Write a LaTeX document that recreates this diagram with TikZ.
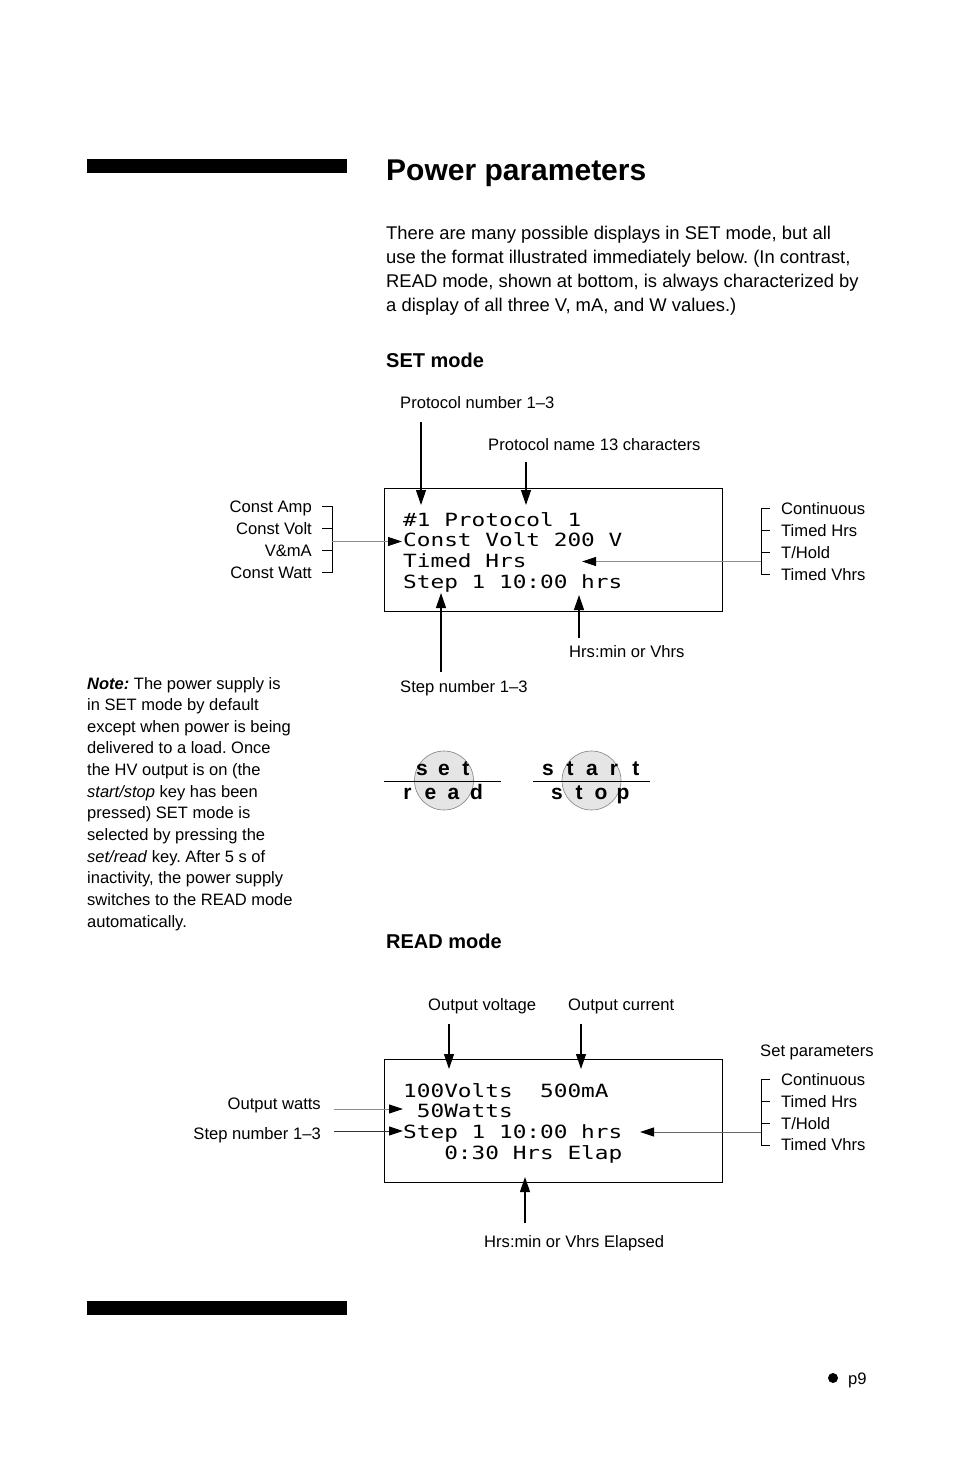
\documentclass[tikz,border=0pt]{standalone}
\usepackage{fontspec}
\setmainfont{Liberation Sans}
\newfontfamily\lcd{DejaVu Sans Mono}[FakeStretch=1.25]
\usetikzlibrary{arrows.meta}
\frenchspacing
\tikzset{
  lbl/.style={font=\fontsize{16.6}{19}\selectfont, inner sep=0pt},
  body/.style={font=\fontsize{18.4}{24}\selectfont, inner sep=0pt, anchor=base west},
  note/.style={font=\fontsize{16.5}{21}\selectfont, inner sep=0pt, anchor=base west},
  lcdtxt/.style={font=\lcd\fontsize{18.2}{20}\selectfont, inner sep=0pt, anchor=base west},
  head/.style={font=\bfseries\fontsize{20}{24}\selectfont, inner sep=0pt, anchor=base west},
  disp/.style={draw, line width=1.4pt, inner sep=0pt, anchor=north west, minimum width=338pt},
  arr/.style={line width=1.2pt, -{Triangle[length=15pt,width=10pt]}},
  garr/.style={draw=black!45, line width=1pt, -{Triangle[length=14pt,width=9pt,color=black]}},
  brk/.style={line width=0.9pt},
  keyc/.style={circle, draw=black!50, fill=black!10, line width=0.6pt, minimum size=59pt, inner sep=0pt},
  keyl/.style={font=\bfseries\fontsize{21}{24}\selectfont, inner sep=0pt, anchor=base},
  bar/.style={fill=black, draw=none}
}
\newcommand{\kl}[1]{\makebox[22pt]{#1}}
\begin{document}
\begin{tikzpicture}[x=1pt,y=-1pt]
\path[use as bounding box, fill=white] (0,0) rectangle (954,1475);

% bars
\fill[bar] (87,159) rectangle (347,173);
\fill[bar] (87,1301) rectangle (347,1315);

% title and body
\node[inner sep=0pt, anchor=base west, font=\bfseries\fontsize{30}{34}\selectfont] (title) at (386,180) {Power parameters};
\foreach \t [count=\i] in {{There are many possible displays in SET mode, but all},
  {use the format illustrated immediately below. (In contrast,},
  {READ mode, shown at bottom, is always characterized by},
  {a display of all three V, mA, and W values.)}}
  \node[body] (b\i) at (386,{239+24*(\i-1)}) {\t};

\node[head] (sethead) at (386,367) {SET mode};
\node[head] (readhead) at (386,948) {READ mode};

% note
\foreach \t [count=\i] in {{\textbf{\textit{Note:}} The power supply is},
  {in SET mode by default},
  {except when power is being},
  {delivered to a load. Once},
  {the HV output is on (the},
  {\textit{start/stop} key has been},
  {pressed) SET mode is},
  {selected by pressing the},
  {\textit{set/read} key. After 5 s of},
  {inactivity, the power supply},
  {switches to the READ mode},
  {automatically.}}
  \node[note] (n\i) at (87,{689+21.64*(\i-1)}) {\t};

% ---------------- SET mode display
\node[disp, minimum height=123pt] (setbox) at (384,488) {};
\node[lcdtxt] (s1) at (403,526) {\#1 Protocol 1};
\node[lcdtxt] (s2) at (403,546.5) {Const Volt 200 V};
\node[lcdtxt] (s3) at (403,567) {Timed Hrs};
\node[lcdtxt] (s4) at (403,588) {Step 1 10:00 hrs};

% top labels
\node[lbl, anchor=base west] (pnum) at (400,408) {Protocol number 1–3};
\node[lbl, anchor=base west] (pname) at (488,450) {Protocol name 13 characters};
\coordinate (pn0) at (421,422); \coordinate (pn1) at (421,505);
\coordinate (pm0) at (526,462); \coordinate (pm1) at (526,505);
\draw[arr] (pn0) -- (pn1);
\draw[arr] (pm0) -- (pm1);

% bottom labels
\node[lbl, anchor=base west] (stepl) at (400,692) {Step number 1–3};
\node[lbl, anchor=base west] (hrsl) at (569,657) {Hrs:min or Vhrs};
\coordinate (st0) at (441,672); \coordinate (st1) at (441,593);
\coordinate (hr0) at (579,638); \coordinate (hr1) at (579,595);
\draw[arr] (st0) -- (st1);
\draw[arr] (hr0) -- (hr1);

% left bracket
\node[lbl, anchor=base east] (la1) at (312,512) {Const Amp};
\node[lbl, anchor=base east] (la2) at (312,534) {Const Volt};
\node[lbl, anchor=base east] (la3) at (312,556) {V\&mA};
\node[lbl, anchor=base east] (la4) at (312,578) {Const Watt};
\draw[brk] (322,506) -- (332,506) -- (332,572) -- (322,572);
\draw[brk] (322,528) -- (332,528);
\draw[brk] (322,550) -- (332,550);
\coordinate (lb0) at (332,541.5); \coordinate (lb1) at (402,541.5);
\draw[garr] (lb0) -- (lb1);

% right bracket
\node[lbl, anchor=base west] (ra1) at (781,514) {Continuous};
\node[lbl, anchor=base west] (ra2) at (781,536) {Timed Hrs};
\node[lbl, anchor=base west] (ra3) at (781,558) {T/Hold};
\node[lbl, anchor=base west] (ra4) at (781,580) {Timed Vhrs};
\draw[brk] (770,508.5) -- (761,508.5) -- (761,574.5) -- (770,574.5);
\draw[brk] (761,530.5) -- (770,530.5);
\draw[brk] (761,552.5) -- (770,552.5);
\coordinate (rb0) at (761,561.5); \coordinate (rb1) at (582,561.5);
\draw[garr] (rb0) -- (rb1);

% ---------------- keys
\node[keyc] (kset) at (444,780.5) {};
\draw[line width=1pt] (384,781) -- (501,781);
\node[keyl] (ktop1) at (444,775) {\kl{s}\kl{e}\kl{t}};
\node[keyl] (kbot1) at (442,799) {\makebox[23pt]{r}\makebox[23pt]{e}\makebox[23pt]{a}\makebox[23pt]{d}};

\node[keyc] (kstart) at (591.5,780.5) {};
\draw[line width=1pt] (533,781) -- (650,781);
\node[keyl] (ktop2) at (592,775) {\kl{s}\kl{t}\kl{a}\kl{r}\kl{t}};
\node[keyl] (kbot2) at (590,799) {\kl{s}\kl{t}\kl{o}\kl{p}};

% ---------------- READ mode display
\node[disp, minimum height=123pt] (readbox) at (384,1059) {};
\node[lcdtxt] (r1) at (403,1097) {100Volts\ \ 500mA};
\node[lcdtxt] (r2) at (403,1117.5) {\ 50Watts};
\node[lcdtxt] (r3) at (403,1138) {Step 1 10:00 hrs};
\node[lcdtxt] (r4) at (403,1159) {\ \ \ 0:30 Hrs Elap};

\node[lbl, anchor=base west] (ovl) at (428,1010) {Output voltage};
\node[lbl, anchor=base west] (ocl) at (568,1010) {Output current};
\coordinate (ov0) at (449,1024); \coordinate (ov1) at (449,1069);
\coordinate (oc0) at (581,1024); \coordinate (oc1) at (581,1069);
\draw[arr] (ov0) -- (ov1);
\draw[arr] (oc0) -- (oc1);

\node[lbl, anchor=base west] (elap) at (484,1247) {Hrs:min or Vhrs Elapsed};
\coordinate (el0) at (525,1223); \coordinate (el1) at (525,1177);
\draw[arr] (el0) -- (el1);

\node[lbl, anchor=base east] (owl) at (321,1109) {Output watts};
\node[lbl, anchor=base east] (rsl) at (321,1139) {Step number 1–3};
\coordinate (ow0) at (334,1109); \coordinate (ow1) at (403,1109);
\coordinate (rs0) at (334,1131); \coordinate (rs1) at (403,1131);
\draw[garr] (ow0) -- (ow1);
\draw[garr, draw=black!80] (rs0) -- (rs1);

\node[lbl, anchor=base west] (setp) at (760,1056) {Set parameters};
\node[lbl, anchor=base west] (rb1l) at (781,1085) {Continuous};
\node[lbl, anchor=base west] (rb2l) at (781,1107) {Timed Hrs};
\node[lbl, anchor=base west] (rb3l) at (781,1129) {T/Hold};
\node[lbl, anchor=base west] (rb4l) at (781,1150) {Timed Vhrs};
\draw[brk] (770,1079) -- (761,1079) -- (761,1145) -- (770,1145);
\draw[brk] (761,1101) -- (770,1101);
\draw[brk] (761,1123) -- (770,1123);
\coordinate (rr0) at (761,1132); \coordinate (rr1) at (640,1132);
\draw[garr, draw=black!60] (rr0) -- (rr1);

% page number
\fill (833,1378) circle (5);
\node[lbl, anchor=base west] (pg) at (848,1384) {p9};
\end{tikzpicture}
\end{document}
